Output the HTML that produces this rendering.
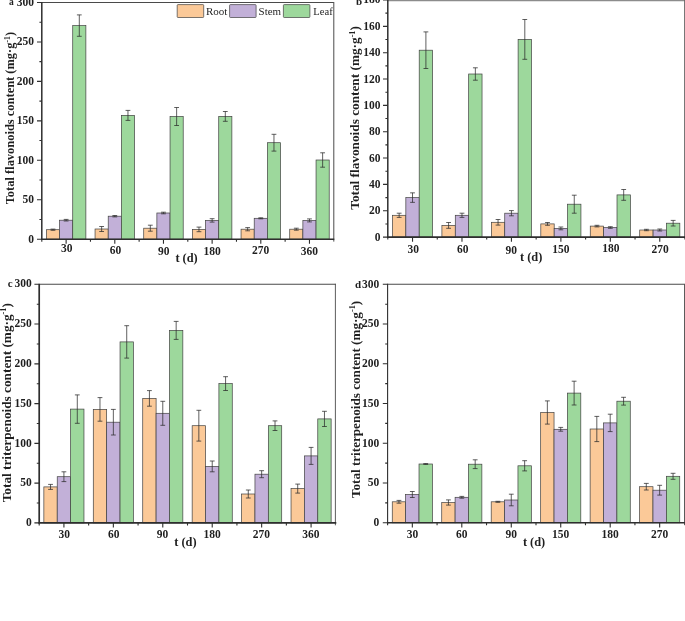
<!DOCTYPE html>
<html lang="en"><head><meta charset="utf-8"><title>Figure</title>
<style>
html,body{margin:0;padding:0;background:#fff;}
body{width:685px;height:621px;overflow:hidden;font-family:"Liberation Serif", serif;}
svg{display:block;font-family:"Liberation Serif", serif;filter:blur(0.35px);}
.tk{font-size:11.5px;font-weight:bold;fill:#1f1f1f;}
.ti{font-size:12px;font-weight:bold;fill:#1f1f1f;}
.pl{font-size:11px;font-weight:bold;fill:#1f1f1f;}
.lg{font-size:9.8px;fill:#1f1f1f;}
</style></head><body>
<svg width="685" height="621" viewBox="0 0 685 621">
<rect width="685" height="621" fill="#fff"/>
<g id="panel-a"><rect x="46.39" y="229.7" width="13.16" height="9.5" fill="#FBC998" stroke="#414141" stroke-width="0.7"/>
<rect x="59.55" y="220.2" width="13.16" height="19" fill="#C2B0D8" stroke="#414141" stroke-width="0.7"/>
<rect x="72.72" y="25.6" width="13.16" height="213.6" fill="#9DD89C" stroke="#414141" stroke-width="0.7"/>
<path d="M52.97 229.1V230.3M50.57 229.1H55.37M50.57 230.3H55.37" stroke="#2b2b2b" stroke-width="0.75" fill="none"/>
<path d="M66.13 219.4V221M63.73 219.4H68.53M63.73 221H68.53" stroke="#2b2b2b" stroke-width="0.75" fill="none"/>
<path d="M79.3 14.9V36.3M76.9 14.9H81.7M76.9 36.3H81.7" stroke="#2b2b2b" stroke-width="0.75" fill="none"/>
<rect x="95.05" y="229" width="13.16" height="10.2" fill="#FBC998" stroke="#414141" stroke-width="0.7"/>
<rect x="108.22" y="216.2" width="13.16" height="23" fill="#C2B0D8" stroke="#414141" stroke-width="0.7"/>
<rect x="121.38" y="115.4" width="13.16" height="123.8" fill="#9DD89C" stroke="#414141" stroke-width="0.7"/>
<path d="M101.64 226.5V231.5M99.24 226.5H104.04M99.24 231.5H104.04" stroke="#2b2b2b" stroke-width="0.75" fill="none"/>
<path d="M114.8 215.5V216.9M112.4 215.5H117.2M112.4 216.9H117.2" stroke="#2b2b2b" stroke-width="0.75" fill="none"/>
<path d="M127.96 110.4V120.4M125.56 110.4H130.36M125.56 120.4H130.36" stroke="#2b2b2b" stroke-width="0.75" fill="none"/>
<rect x="143.72" y="228.2" width="13.16" height="11" fill="#FBC998" stroke="#414141" stroke-width="0.7"/>
<rect x="156.88" y="213" width="13.16" height="26.2" fill="#C2B0D8" stroke="#414141" stroke-width="0.7"/>
<rect x="170.05" y="116.5" width="13.16" height="122.7" fill="#9DD89C" stroke="#414141" stroke-width="0.7"/>
<path d="M150.3 225.2V231.2M147.9 225.2H152.7M147.9 231.2H152.7" stroke="#2b2b2b" stroke-width="0.75" fill="none"/>
<path d="M163.47 212.2V213.8M161.07 212.2H165.87M161.07 213.8H165.87" stroke="#2b2b2b" stroke-width="0.75" fill="none"/>
<path d="M176.63 107.5V125.5M174.23 107.5H179.03M174.23 125.5H179.03" stroke="#2b2b2b" stroke-width="0.75" fill="none"/>
<rect x="192.39" y="229.4" width="13.16" height="9.8" fill="#FBC998" stroke="#414141" stroke-width="0.7"/>
<rect x="205.55" y="220.4" width="13.16" height="18.8" fill="#C2B0D8" stroke="#414141" stroke-width="0.7"/>
<rect x="218.72" y="116.4" width="13.16" height="122.8" fill="#9DD89C" stroke="#414141" stroke-width="0.7"/>
<path d="M198.97 227.1V231.7M196.57 227.1H201.37M196.57 231.7H201.37" stroke="#2b2b2b" stroke-width="0.75" fill="none"/>
<path d="M212.13 218.7V222.1M209.73 218.7H214.53M209.73 222.1H214.53" stroke="#2b2b2b" stroke-width="0.75" fill="none"/>
<path d="M225.3 111.5V121.3M222.9 111.5H227.7M222.9 121.3H227.7" stroke="#2b2b2b" stroke-width="0.75" fill="none"/>
<rect x="241.05" y="229.2" width="13.16" height="10" fill="#FBC998" stroke="#414141" stroke-width="0.7"/>
<rect x="254.22" y="218.3" width="13.16" height="20.9" fill="#C2B0D8" stroke="#414141" stroke-width="0.7"/>
<rect x="267.38" y="142.7" width="13.16" height="96.5" fill="#9DD89C" stroke="#414141" stroke-width="0.7"/>
<path d="M247.64 227.6V230.8M245.24 227.6H250.04M245.24 230.8H250.04" stroke="#2b2b2b" stroke-width="0.75" fill="none"/>
<path d="M260.8 217.8V218.8M258.4 217.8H263.2M258.4 218.8H263.2" stroke="#2b2b2b" stroke-width="0.75" fill="none"/>
<path d="M273.96 134.3V151.1M271.56 134.3H276.36M271.56 151.1H276.36" stroke="#2b2b2b" stroke-width="0.75" fill="none"/>
<rect x="289.72" y="229.2" width="13.16" height="10" fill="#FBC998" stroke="#414141" stroke-width="0.7"/>
<rect x="302.88" y="220.4" width="13.16" height="18.8" fill="#C2B0D8" stroke="#414141" stroke-width="0.7"/>
<rect x="316.05" y="160" width="13.16" height="79.2" fill="#9DD89C" stroke="#414141" stroke-width="0.7"/>
<path d="M296.3 228.2V230.2M293.9 228.2H298.7M293.9 230.2H298.7" stroke="#2b2b2b" stroke-width="0.75" fill="none"/>
<path d="M309.47 218.9V221.9M307.07 218.9H311.87M307.07 221.9H311.87" stroke="#2b2b2b" stroke-width="0.75" fill="none"/>
<path d="M322.63 152.8V167.2M320.23 152.8H325.03M320.23 167.2H325.03" stroke="#2b2b2b" stroke-width="0.75" fill="none"/>
<path d="M41.8 2.5H333.8" stroke="#4a4a4a" stroke-width="1.2" fill="none"/>
<path d="M333.8 2V241.6" stroke="#4a4a4a" stroke-width="1.0" fill="none"/>
<path d="M41.8 2V239.9" stroke="#2e2e2e" stroke-width="1.5" fill="none"/>
<path d="M41.1 239.2H334.3" stroke="#2e2e2e" stroke-width="1.6" fill="none"/>
<path d="M41.8 239.2h-4.8M41.8 219.47h-2.4M41.8 199.75h-4.8M41.8 180.02h-2.4M41.8 160.3h-4.8M41.8 140.57h-2.4M41.8 120.85h-4.8M41.8 101.12h-2.4M41.8 81.4h-4.8M41.8 61.67h-2.4M41.8 41.95h-4.8M41.8 22.22h-2.4M41.8 2.5h-4.8M66.13 239.2v4.6M114.8 239.2v4.6M163.47 239.2v4.6M212.13 239.2v4.6M260.8 239.2v4.6M309.47 239.2v4.6M41.8 239.2v2.5M90.47 239.2v2.5M139.13 239.2v2.5M187.8 239.2v2.5M236.47 239.2v2.5M285.13 239.2v2.5" stroke="#2e2e2e" stroke-width="1.1" fill="none"/>
<text transform="translate(34.1 242.6)" text-anchor="end" class="tk" style="font-size:11.5px">0</text>
<text transform="translate(34.1 203.15)" text-anchor="end" class="tk" style="font-size:11.5px">50</text>
<text transform="translate(34.1 163.7)" text-anchor="end" class="tk" style="font-size:11.5px">100</text>
<text transform="translate(34.1 124.25)" text-anchor="end" class="tk" style="font-size:11.5px">150</text>
<text transform="translate(34.1 84.8)" text-anchor="end" class="tk" style="font-size:11.5px">200</text>
<text transform="translate(34.1 45.35)" text-anchor="end" class="tk" style="font-size:11.5px">250</text>
<text transform="translate(34.1 6.3)" text-anchor="end" class="tk" style="font-size:11.5px">300</text>
<text transform="translate(66.83 251.9)" text-anchor="middle" class="tk" style="font-size:11.5px">30</text>
<text transform="translate(115.5 254)" text-anchor="middle" class="tk" style="font-size:11.5px">60</text>
<text transform="translate(163.77 255.2)" text-anchor="middle" class="tk" style="font-size:11.5px">90</text>
<text transform="translate(212.23 254.7)" text-anchor="middle" class="tk" style="font-size:11.5px">180</text>
<text transform="translate(260.6 253.8)" text-anchor="middle" class="tk" style="font-size:11.5px">270</text>
<text transform="translate(309.47 255.2)" text-anchor="middle" class="tk" style="font-size:11.5px">360</text></g>
<g id="panel-b"><rect x="392.46" y="215.3" width="13.38" height="21.8" fill="#FBC998" stroke="#414141" stroke-width="0.7"/>
<rect x="405.84" y="197.6" width="13.38" height="39.5" fill="#C2B0D8" stroke="#414141" stroke-width="0.7"/>
<rect x="419.21" y="50.2" width="13.38" height="186.9" fill="#9DD89C" stroke="#414141" stroke-width="0.7"/>
<path d="M399.15 213.2V217.4M396.75 213.2H401.55M396.75 217.4H401.55" stroke="#2b2b2b" stroke-width="0.75" fill="none"/>
<path d="M412.53 192.85V202.35M410.13 192.85H414.93M410.13 202.35H414.93" stroke="#2b2b2b" stroke-width="0.75" fill="none"/>
<path d="M425.9 31.9V68.5M423.5 31.9H428.3M423.5 68.5H428.3" stroke="#2b2b2b" stroke-width="0.75" fill="none"/>
<rect x="441.91" y="225.4" width="13.38" height="11.7" fill="#FBC998" stroke="#414141" stroke-width="0.7"/>
<rect x="455.29" y="215.3" width="13.38" height="21.8" fill="#C2B0D8" stroke="#414141" stroke-width="0.7"/>
<rect x="468.66" y="74" width="13.38" height="163.1" fill="#9DD89C" stroke="#414141" stroke-width="0.7"/>
<path d="M448.6 222.5V228.3M446.2 222.5H451M446.2 228.3H451" stroke="#2b2b2b" stroke-width="0.75" fill="none"/>
<path d="M461.98 213.2V217.4M459.58 213.2H464.38M459.58 217.4H464.38" stroke="#2b2b2b" stroke-width="0.75" fill="none"/>
<path d="M475.35 67.8V80.2M472.95 67.8H477.75M472.95 80.2H477.75" stroke="#2b2b2b" stroke-width="0.75" fill="none"/>
<rect x="491.36" y="222.3" width="13.38" height="14.8" fill="#FBC998" stroke="#414141" stroke-width="0.7"/>
<rect x="504.74" y="213.2" width="13.38" height="23.9" fill="#C2B0D8" stroke="#414141" stroke-width="0.7"/>
<rect x="518.11" y="39.4" width="13.38" height="197.7" fill="#9DD89C" stroke="#414141" stroke-width="0.7"/>
<path d="M498.05 219.5V225.1M495.65 219.5H500.45M495.65 225.1H500.45" stroke="#2b2b2b" stroke-width="0.75" fill="none"/>
<path d="M511.43 210.6V215.8M509.03 210.6H513.83M509.03 215.8H513.83" stroke="#2b2b2b" stroke-width="0.75" fill="none"/>
<path d="M524.8 19.5V59.3M522.4 19.5H527.2M522.4 59.3H527.2" stroke="#2b2b2b" stroke-width="0.75" fill="none"/>
<rect x="540.81" y="223.9" width="13.38" height="13.2" fill="#FBC998" stroke="#414141" stroke-width="0.7"/>
<rect x="554.19" y="228.4" width="13.38" height="8.7" fill="#C2B0D8" stroke="#414141" stroke-width="0.7"/>
<rect x="567.56" y="204.2" width="13.38" height="32.9" fill="#9DD89C" stroke="#414141" stroke-width="0.7"/>
<path d="M547.5 222.5V225.3M545.1 222.5H549.9M545.1 225.3H549.9" stroke="#2b2b2b" stroke-width="0.75" fill="none"/>
<path d="M560.88 227V229.8M558.48 227H563.27M558.48 229.8H563.27" stroke="#2b2b2b" stroke-width="0.75" fill="none"/>
<path d="M574.25 195.2V213.2M571.85 195.2H576.65M571.85 213.2H576.65" stroke="#2b2b2b" stroke-width="0.75" fill="none"/>
<rect x="590.26" y="226.1" width="13.38" height="11" fill="#FBC998" stroke="#414141" stroke-width="0.7"/>
<rect x="603.64" y="227.5" width="13.38" height="9.6" fill="#C2B0D8" stroke="#414141" stroke-width="0.7"/>
<rect x="617.01" y="194.9" width="13.38" height="42.2" fill="#9DD89C" stroke="#414141" stroke-width="0.7"/>
<path d="M596.95 225.3V226.9M594.55 225.3H599.35M594.55 226.9H599.35" stroke="#2b2b2b" stroke-width="0.75" fill="none"/>
<path d="M610.33 226.7V228.3M607.93 226.7H612.73M607.93 228.3H612.73" stroke="#2b2b2b" stroke-width="0.75" fill="none"/>
<path d="M623.7 189.5V200.3M621.3 189.5H626.1M621.3 200.3H626.1" stroke="#2b2b2b" stroke-width="0.75" fill="none"/>
<rect x="639.71" y="230" width="13.38" height="7.1" fill="#FBC998" stroke="#414141" stroke-width="0.7"/>
<rect x="653.09" y="230" width="13.38" height="7.1" fill="#C2B0D8" stroke="#414141" stroke-width="0.7"/>
<rect x="666.46" y="223.2" width="13.38" height="13.9" fill="#9DD89C" stroke="#414141" stroke-width="0.7"/>
<path d="M646.4 229.3V230.7M644 229.3H648.8M644 230.7H648.8" stroke="#2b2b2b" stroke-width="0.75" fill="none"/>
<path d="M659.77 229V231M657.38 229H662.17M657.38 231H662.17" stroke="#2b2b2b" stroke-width="0.75" fill="none"/>
<path d="M673.15 220.4V226M670.75 220.4H675.55M670.75 226H675.55" stroke="#2b2b2b" stroke-width="0.75" fill="none"/>
<path d="M387.8 0.45H684.5" stroke="#8c8c8c" stroke-width="1.4" fill="none"/>
<path d="M684.75 -0.5V239.5" stroke="#4a4a4a" stroke-width="1.0" fill="none"/>
<path d="M387.8 -0.5V237.8" stroke="#2e2e2e" stroke-width="1.5" fill="none"/>
<path d="M387.1 237.1H685" stroke="#2e2e2e" stroke-width="1.6" fill="none"/>
<path d="M387.8 237.1h-4.8M387.8 223.93h-2.4M387.8 210.76h-4.8M387.8 197.58h-2.4M387.8 184.41h-4.8M387.8 171.24h-2.4M387.8 158.07h-4.8M387.8 144.89h-2.4M387.8 131.72h-4.8M387.8 118.55h-2.4M387.8 105.38h-4.8M387.8 92.21h-2.4M387.8 79.03h-4.8M387.8 65.86h-2.4M387.8 52.69h-4.8M387.8 39.52h-2.4M387.8 26.34h-4.8M387.8 13.17h-2.4M387.8 0h-4.8M412.53 237.1v4.6M461.98 237.1v4.6M511.43 237.1v4.6M560.88 237.1v4.6M610.33 237.1v4.6M659.77 237.1v4.6M387.8 237.1v2.5M437.25 237.1v2.5M486.7 237.1v2.5M536.15 237.1v2.5M585.6 237.1v2.5M635.05 237.1v2.5" stroke="#2e2e2e" stroke-width="1.1" fill="none"/>
<text transform="translate(380.5 240.8)" text-anchor="end" class="tk" style="font-size:11.5px">0</text>
<text transform="translate(380.5 214.46)" text-anchor="end" class="tk" style="font-size:11.5px">20</text>
<text transform="translate(380.5 188.11)" text-anchor="end" class="tk" style="font-size:11.5px">40</text>
<text transform="translate(380.5 161.77)" text-anchor="end" class="tk" style="font-size:11.5px">60</text>
<text transform="translate(380.5 135.42)" text-anchor="end" class="tk" style="font-size:11.5px">80</text>
<text transform="translate(380.5 109.08)" text-anchor="end" class="tk" style="font-size:11.5px">100</text>
<text transform="translate(380.5 82.73)" text-anchor="end" class="tk" style="font-size:11.5px">120</text>
<text transform="translate(380.5 56.39)" text-anchor="end" class="tk" style="font-size:11.5px">140</text>
<text transform="translate(380.5 30.04)" text-anchor="end" class="tk" style="font-size:11.5px">160</text>
<text transform="translate(380.5 3.1)" text-anchor="end" class="tk" style="font-size:11.5px">180</text>
<text transform="translate(413.13 252.7)" text-anchor="middle" class="tk" style="font-size:11.5px">30</text>
<text transform="translate(462.78 252.7)" text-anchor="middle" class="tk" style="font-size:11.5px">60</text>
<text transform="translate(511.32 253.6)" text-anchor="middle" class="tk" style="font-size:11.5px">90</text>
<text transform="translate(560.98 252.7)" text-anchor="middle" class="tk" style="font-size:11.5px">150</text>
<text transform="translate(610.93 252)" text-anchor="middle" class="tk" style="font-size:11.5px">180</text>
<text transform="translate(660.17 252.7)" text-anchor="middle" class="tk" style="font-size:11.5px">270</text></g>
<g id="panel-c"><rect x="43.86" y="486.9" width="13.37" height="36" fill="#FBC998" stroke="#414141" stroke-width="0.7"/>
<rect x="57.23" y="476.7" width="13.37" height="46.2" fill="#C2B0D8" stroke="#414141" stroke-width="0.7"/>
<rect x="70.6" y="409.1" width="13.37" height="113.8" fill="#9DD89C" stroke="#414141" stroke-width="0.7"/>
<path d="M50.54 484.4V489.4M48.14 484.4H52.94M48.14 489.4H52.94" stroke="#2b2b2b" stroke-width="0.75" fill="none"/>
<path d="M63.92 471.8V481.6M61.52 471.8H66.32M61.52 481.6H66.32" stroke="#2b2b2b" stroke-width="0.75" fill="none"/>
<path d="M77.29 394.9V423.3M74.89 394.9H79.69M74.89 423.3H79.69" stroke="#2b2b2b" stroke-width="0.75" fill="none"/>
<rect x="93.29" y="409.4" width="13.37" height="113.5" fill="#FBC998" stroke="#414141" stroke-width="0.7"/>
<rect x="106.66" y="422.2" width="13.37" height="100.7" fill="#C2B0D8" stroke="#414141" stroke-width="0.7"/>
<rect x="120.04" y="341.9" width="13.37" height="181" fill="#9DD89C" stroke="#414141" stroke-width="0.7"/>
<path d="M99.98 397.6V421.2M97.58 397.6H102.38M97.58 421.2H102.38" stroke="#2b2b2b" stroke-width="0.75" fill="none"/>
<path d="M113.35 409.4V435M110.95 409.4H115.75M110.95 435H115.75" stroke="#2b2b2b" stroke-width="0.75" fill="none"/>
<path d="M126.72 325.7V358.1M124.32 325.7H129.12M124.32 358.1H129.12" stroke="#2b2b2b" stroke-width="0.75" fill="none"/>
<rect x="142.73" y="398.4" width="13.37" height="124.5" fill="#FBC998" stroke="#414141" stroke-width="0.7"/>
<rect x="156.1" y="413.3" width="13.37" height="109.6" fill="#C2B0D8" stroke="#414141" stroke-width="0.7"/>
<rect x="169.47" y="330.4" width="13.37" height="192.5" fill="#9DD89C" stroke="#414141" stroke-width="0.7"/>
<path d="M149.41 390.6V406.2M147.01 390.6H151.81M147.01 406.2H151.81" stroke="#2b2b2b" stroke-width="0.75" fill="none"/>
<path d="M162.78 401.3V425.3M160.38 401.3H165.18M160.38 425.3H165.18" stroke="#2b2b2b" stroke-width="0.75" fill="none"/>
<path d="M176.16 321.4V339.4M173.76 321.4H178.56M173.76 339.4H178.56" stroke="#2b2b2b" stroke-width="0.75" fill="none"/>
<rect x="192.16" y="425.7" width="13.37" height="97.2" fill="#FBC998" stroke="#414141" stroke-width="0.7"/>
<rect x="205.53" y="466.4" width="13.37" height="56.5" fill="#C2B0D8" stroke="#414141" stroke-width="0.7"/>
<rect x="218.9" y="383.6" width="13.37" height="139.3" fill="#9DD89C" stroke="#414141" stroke-width="0.7"/>
<path d="M198.84 410.3V441.1M196.44 410.3H201.24M196.44 441.1H201.24" stroke="#2b2b2b" stroke-width="0.75" fill="none"/>
<path d="M212.22 461V471.8M209.82 461H214.62M209.82 471.8H214.62" stroke="#2b2b2b" stroke-width="0.75" fill="none"/>
<path d="M225.59 376.7V390.5M223.19 376.7H227.99M223.19 390.5H227.99" stroke="#2b2b2b" stroke-width="0.75" fill="none"/>
<rect x="241.59" y="494" width="13.37" height="28.9" fill="#FBC998" stroke="#414141" stroke-width="0.7"/>
<rect x="254.96" y="474.2" width="13.37" height="48.7" fill="#C2B0D8" stroke="#414141" stroke-width="0.7"/>
<rect x="268.34" y="425.7" width="13.37" height="97.2" fill="#9DD89C" stroke="#414141" stroke-width="0.7"/>
<path d="M248.28 490V498M245.88 490H250.68M245.88 498H250.68" stroke="#2b2b2b" stroke-width="0.75" fill="none"/>
<path d="M261.65 470.7V477.7M259.25 470.7H264.05M259.25 477.7H264.05" stroke="#2b2b2b" stroke-width="0.75" fill="none"/>
<path d="M275.02 420.9V430.5M272.62 420.9H277.42M272.62 430.5H277.42" stroke="#2b2b2b" stroke-width="0.75" fill="none"/>
<rect x="291.03" y="488.6" width="13.37" height="34.3" fill="#FBC998" stroke="#414141" stroke-width="0.7"/>
<rect x="304.4" y="455.9" width="13.37" height="67" fill="#C2B0D8" stroke="#414141" stroke-width="0.7"/>
<rect x="317.77" y="418.9" width="13.37" height="104" fill="#9DD89C" stroke="#414141" stroke-width="0.7"/>
<path d="M297.71 484.1V493.1M295.31 484.1H300.11M295.31 493.1H300.11" stroke="#2b2b2b" stroke-width="0.75" fill="none"/>
<path d="M311.08 447.4V464.4M308.68 447.4H313.48M308.68 464.4H313.48" stroke="#2b2b2b" stroke-width="0.75" fill="none"/>
<path d="M324.46 411.3V426.5M322.06 411.3H326.86M322.06 426.5H326.86" stroke="#2b2b2b" stroke-width="0.75" fill="none"/>
<path d="M39.2 284.3H335.8" stroke="#4a4a4a" stroke-width="1.1" fill="none"/>
<path d="M335.4 283.8V525.3" stroke="#4a4a4a" stroke-width="0.9" fill="none"/>
<path d="M39.2 283.8V523.6" stroke="#2e2e2e" stroke-width="1.7" fill="none"/>
<path d="M38.5 522.9H336.3" stroke="#2e2e2e" stroke-width="1.6" fill="none"/>
<path d="M39.2 522.9h-4.8M39.2 503.02h-2.4M39.2 483.13h-4.8M39.2 463.25h-2.4M39.2 443.37h-4.8M39.2 423.48h-2.4M39.2 403.6h-4.8M39.2 383.72h-2.4M39.2 363.83h-4.8M39.2 343.95h-2.4M39.2 324.07h-4.8M39.2 304.18h-2.4M39.2 284.3h-4.8M63.92 522.9v4.6M113.35 522.9v4.6M162.78 522.9v4.6M212.22 522.9v4.6M261.65 522.9v4.6M311.08 522.9v4.6M39.2 522.9v2.5M88.63 522.9v2.5M138.07 522.9v2.5M187.5 522.9v2.5M236.93 522.9v2.5M286.37 522.9v2.5" stroke="#2e2e2e" stroke-width="1.1" fill="none"/>
<text transform="translate(31.8 526.1)" text-anchor="end" class="tk" style="font-size:11.5px">0</text>
<text transform="translate(31.8 486.33)" text-anchor="end" class="tk" style="font-size:11.5px">50</text>
<text transform="translate(31.8 446.57)" text-anchor="end" class="tk" style="font-size:11.5px">100</text>
<text transform="translate(31.8 406.8)" text-anchor="end" class="tk" style="font-size:11.5px">150</text>
<text transform="translate(31.8 367.03)" text-anchor="end" class="tk" style="font-size:11.5px">200</text>
<text transform="translate(31.8 327.27)" text-anchor="end" class="tk" style="font-size:11.5px">250</text>
<text transform="translate(31.8 286.9)" text-anchor="end" class="tk" style="font-size:11.5px">300</text>
<text transform="translate(64.32 538)" text-anchor="middle" class="tk" style="font-size:11.5px">30</text>
<text transform="translate(113.65 538)" text-anchor="middle" class="tk" style="font-size:11.5px">60</text>
<text transform="translate(162.58 538)" text-anchor="middle" class="tk" style="font-size:11.5px">90</text>
<text transform="translate(212.22 538)" text-anchor="middle" class="tk" style="font-size:11.5px">180</text>
<text transform="translate(261.35 538)" text-anchor="middle" class="tk" style="font-size:11.5px">270</text>
<text transform="translate(310.98 538)" text-anchor="middle" class="tk" style="font-size:11.5px">360</text></g>
<g id="panel-d"><rect x="392.26" y="501.8" width="13.38" height="21" fill="#FBC998" stroke="#414141" stroke-width="0.7"/>
<rect x="405.64" y="494.5" width="13.38" height="28.3" fill="#C2B0D8" stroke="#414141" stroke-width="0.7"/>
<rect x="419.02" y="464" width="13.38" height="58.8" fill="#9DD89C" stroke="#414141" stroke-width="0.7"/>
<path d="M398.95 500.4V503.2M396.55 500.4H401.35M396.55 503.2H401.35" stroke="#2b2b2b" stroke-width="0.75" fill="none"/>
<path d="M412.33 491.5V497.5M409.93 491.5H414.73M409.93 497.5H414.73" stroke="#2b2b2b" stroke-width="0.75" fill="none"/>
<path d="M425.71 463.6V464.4M423.31 463.6H428.11M423.31 464.4H428.11" stroke="#2b2b2b" stroke-width="0.75" fill="none"/>
<rect x="441.73" y="502.5" width="13.38" height="20.3" fill="#FBC998" stroke="#414141" stroke-width="0.7"/>
<rect x="455.11" y="497.3" width="13.38" height="25.5" fill="#C2B0D8" stroke="#414141" stroke-width="0.7"/>
<rect x="468.49" y="464.2" width="13.38" height="58.6" fill="#9DD89C" stroke="#414141" stroke-width="0.7"/>
<path d="M448.42 499.9V505.1M446.02 499.9H450.82M446.02 505.1H450.82" stroke="#2b2b2b" stroke-width="0.75" fill="none"/>
<path d="M461.8 496.4V498.2M459.4 496.4H464.2M459.4 498.2H464.2" stroke="#2b2b2b" stroke-width="0.75" fill="none"/>
<path d="M475.18 459.8V468.6M472.78 459.8H477.58M472.78 468.6H477.58" stroke="#2b2b2b" stroke-width="0.75" fill="none"/>
<rect x="491.2" y="501.8" width="13.38" height="21" fill="#FBC998" stroke="#414141" stroke-width="0.7"/>
<rect x="504.58" y="500" width="13.38" height="22.8" fill="#C2B0D8" stroke="#414141" stroke-width="0.7"/>
<rect x="517.96" y="465.8" width="13.38" height="57" fill="#9DD89C" stroke="#414141" stroke-width="0.7"/>
<path d="M497.89 501.3V502.3M495.49 501.3H500.29M495.49 502.3H500.29" stroke="#2b2b2b" stroke-width="0.75" fill="none"/>
<path d="M511.27 494.2V505.8M508.87 494.2H513.67M508.87 505.8H513.67" stroke="#2b2b2b" stroke-width="0.75" fill="none"/>
<path d="M524.65 460.7V470.9M522.25 460.7H527.05M522.25 470.9H527.05" stroke="#2b2b2b" stroke-width="0.75" fill="none"/>
<rect x="540.66" y="412.5" width="13.38" height="110.3" fill="#FBC998" stroke="#414141" stroke-width="0.7"/>
<rect x="554.04" y="429.3" width="13.38" height="93.5" fill="#C2B0D8" stroke="#414141" stroke-width="0.7"/>
<rect x="567.42" y="393.1" width="13.38" height="129.7" fill="#9DD89C" stroke="#414141" stroke-width="0.7"/>
<path d="M547.35 400.9V424.1M544.95 400.9H549.75M544.95 424.1H549.75" stroke="#2b2b2b" stroke-width="0.75" fill="none"/>
<path d="M560.73 427.4V431.2M558.33 427.4H563.13M558.33 431.2H563.13" stroke="#2b2b2b" stroke-width="0.75" fill="none"/>
<path d="M574.11 381.2V405M571.71 381.2H576.51M571.71 405H576.51" stroke="#2b2b2b" stroke-width="0.75" fill="none"/>
<rect x="590.13" y="429" width="13.38" height="93.8" fill="#FBC998" stroke="#414141" stroke-width="0.7"/>
<rect x="603.51" y="422.9" width="13.38" height="99.9" fill="#C2B0D8" stroke="#414141" stroke-width="0.7"/>
<rect x="616.89" y="401.2" width="13.38" height="121.6" fill="#9DD89C" stroke="#414141" stroke-width="0.7"/>
<path d="M596.82 416.4V441.6M594.42 416.4H599.22M594.42 441.6H599.22" stroke="#2b2b2b" stroke-width="0.75" fill="none"/>
<path d="M610.2 414.2V431.6M607.8 414.2H612.6M607.8 431.6H612.6" stroke="#2b2b2b" stroke-width="0.75" fill="none"/>
<path d="M623.58 397.3V405.1M621.18 397.3H625.98M621.18 405.1H625.98" stroke="#2b2b2b" stroke-width="0.75" fill="none"/>
<rect x="639.6" y="486.7" width="13.38" height="36.1" fill="#FBC998" stroke="#414141" stroke-width="0.7"/>
<rect x="652.98" y="490.2" width="13.38" height="32.6" fill="#C2B0D8" stroke="#414141" stroke-width="0.7"/>
<rect x="666.36" y="476.3" width="13.38" height="46.5" fill="#9DD89C" stroke="#414141" stroke-width="0.7"/>
<path d="M646.29 483.4V490M643.89 483.4H648.69M643.89 490H648.69" stroke="#2b2b2b" stroke-width="0.75" fill="none"/>
<path d="M659.67 485.3V495.1M657.27 485.3H662.07M657.27 495.1H662.07" stroke="#2b2b2b" stroke-width="0.75" fill="none"/>
<path d="M673.05 473.3V479.3M670.65 473.3H675.45M670.65 479.3H675.45" stroke="#2b2b2b" stroke-width="0.75" fill="none"/>
<path d="M387.6 284.3H684.4" stroke="#4a4a4a" stroke-width="1.1" fill="none"/>
<path d="M684.6 283.8V525.2" stroke="#4a4a4a" stroke-width="1.0" fill="none"/>
<path d="M387.6 283.8V523.5" stroke="#2e2e2e" stroke-width="1.1" fill="none"/>
<path d="M386.9 522.8H684.9" stroke="#2e2e2e" stroke-width="1.6" fill="none"/>
<path d="M387.6 522.8h-4.8M387.6 502.92h-2.4M387.6 483.05h-4.8M387.6 463.17h-2.4M387.6 443.3h-4.8M387.6 423.42h-2.4M387.6 403.55h-4.8M387.6 383.67h-2.4M387.6 363.8h-4.8M387.6 343.93h-2.4M387.6 324.05h-4.8M387.6 304.18h-2.4M387.6 284.3h-4.8M412.33 522.8v4.6M461.8 522.8v4.6M511.27 522.8v4.6M560.73 522.8v4.6M610.2 522.8v4.6M659.67 522.8v4.6M387.6 522.8v2.5M437.07 522.8v2.5M486.53 522.8v2.5M536 522.8v2.5M585.47 522.8v2.5M634.93 522.8v2.5" stroke="#2e2e2e" stroke-width="1.1" fill="none"/>
<text transform="translate(379.2 526)" text-anchor="end" class="tk" style="font-size:11.5px">0</text>
<text transform="translate(379.2 486.25)" text-anchor="end" class="tk" style="font-size:11.5px">50</text>
<text transform="translate(379.2 446.5)" text-anchor="end" class="tk" style="font-size:11.5px">100</text>
<text transform="translate(379.2 406.75)" text-anchor="end" class="tk" style="font-size:11.5px">150</text>
<text transform="translate(379.2 367)" text-anchor="end" class="tk" style="font-size:11.5px">200</text>
<text transform="translate(379.2 327.25)" text-anchor="end" class="tk" style="font-size:11.5px">250</text>
<text transform="translate(379.2 287.5)" text-anchor="end" class="tk" style="font-size:11.5px">300</text>
<text transform="translate(412.53 538.1)" text-anchor="middle" class="tk" style="font-size:11.5px">30</text>
<text transform="translate(461.8 538.1)" text-anchor="middle" class="tk" style="font-size:11.5px">60</text>
<text transform="translate(511.17 538.1)" text-anchor="middle" class="tk" style="font-size:11.5px">90</text>
<text transform="translate(560.73 538.1)" text-anchor="middle" class="tk" style="font-size:11.5px">150</text>
<text transform="translate(610.2 538.1)" text-anchor="middle" class="tk" style="font-size:11.5px">180</text>
<text transform="translate(659.67 538.1)" text-anchor="middle" class="tk" style="font-size:11.5px">270</text></g>
<text transform="translate(14.3 204.3) rotate(-90) scale(0.990 1)" class="ti" style="font-size:12.6px">Total flavonoids content (mg·g<tspan style="font-size:7.81px" dy="-4.54">-1</tspan><tspan dy="4.54">)</tspan></text>
<text transform="translate(359.4 209.7) rotate(-90) scale(1.029 1)" class="ti" style="font-size:12.9px">Total flavonoids content (mg·g<tspan style="font-size:8px" dy="-4.64">-1</tspan><tspan dy="4.64">)</tspan></text>
<text transform="translate(11 502.3) rotate(-90) scale(1.046 1)" class="ti" style="font-size:12.7px">Total triterpenoids content (mg·g<tspan style="font-size:7.87px" dy="-4.57">-1</tspan><tspan dy="4.57">)</tspan></text>
<text transform="translate(359.8 498.1) rotate(-90) scale(1.012 1)" class="ti" style="font-size:13.0px">Total triterpenoids content (mg·g<tspan style="font-size:8.06px" dy="-4.68">-1</tspan><tspan dy="4.68">)</tspan></text>
<text transform="translate(175.4 261.7) scale(1.050 1.000)" text-anchor="start" class="ti" style="font-size:11.8px">t (d)</text>
<text transform="translate(520 261.3) scale(1.050 1.000)" text-anchor="start" class="ti" style="font-size:11.8px">t (d)</text>
<text transform="translate(174.2 545.6) scale(1.050 1.000)" text-anchor="start" class="ti" style="font-size:11.8px">t (d)</text>
<text transform="translate(522.9 545.6) scale(1.050 1.000)" text-anchor="start" class="ti" style="font-size:11.8px">t (d)</text>
<text transform="translate(9.1 4.9)" text-anchor="start" class="pl" style="font-size:9.5px">a</text>
<text transform="translate(356 4.5)" text-anchor="start" class="pl">b</text>
<text transform="translate(7.7 286.5)" text-anchor="start" class="pl">c</text>
<text transform="translate(354.9 288.4)" text-anchor="start" class="pl">d</text>
<rect x="177.2" y="4.6" width="26.5" height="12.9" rx="0.8" fill="#FBC998" stroke="#414141" stroke-width="0.7"/>
<text transform="translate(205.9 14.5) scale(1.130 1.000)" text-anchor="start" class="lg">Root</text>
<rect x="229.6" y="4.6" width="26.5" height="12.9" rx="0.8" fill="#C2B0D8" stroke="#414141" stroke-width="0.7"/>
<text transform="translate(258.6 14.5) scale(1.120 1.000)" text-anchor="start" class="lg">Stem</text>
<rect x="283.4" y="4.6" width="26.5" height="12.9" rx="0.8" fill="#9DD89C" stroke="#414141" stroke-width="0.7"/>
<text transform="translate(313.3 14.5) scale(1.080 1.000)" text-anchor="start" class="lg">Leaf</text>
</svg>
</body></html>
